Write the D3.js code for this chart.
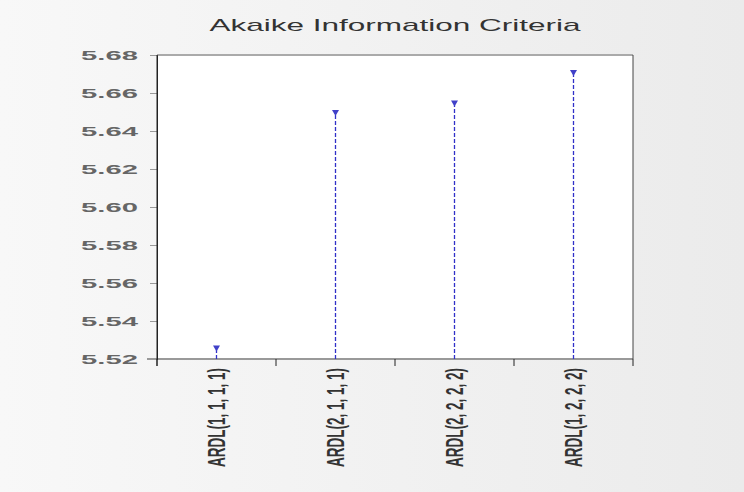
<!DOCTYPE html>
<html><head><meta charset="utf-8">
<script src="https://cdn.jsdelivr.net/npm/d3@7"></script>
<style>html,body{margin:0;padding:0;background:#f1f1f1;}</style>
</head><body>
<svg id="c" width="744" height="492"></svg>
<script>
const categories = ["ARDL(1, 1, 1, 1)", "ARDL(2, 1, 1, 1)", "ARDL(2, 2, 2, 2)", "ARDL(1, 2, 2, 2)"];
const aicValues = [5.526, 5.650, 5.655, 5.671];
const yTicks = [5.52, 5.54, 5.56, 5.58, 5.60, 5.62, 5.64, 5.66, 5.68];
const title = "Akaike Information Criteria";

const svg = d3.select("#c");
const m = {l:157, r:633, t:55, b:359};

const defs = svg.append("defs");
const g = defs.append("linearGradient").attr("id","bg").attr("x1",0).attr("x2",1).attr("y1",0).attr("y2",0);
g.append("stop").attr("offset","0%").attr("stop-color","#f8f8f8");
g.append("stop").attr("offset","100%").attr("stop-color","#ebebeb");
svg.append("rect").attr("width",744).attr("height",492).attr("fill","url(#bg)");

const x = d3.scaleBand().domain(categories).range([m.l, m.r]);
const y = d3.scaleLinear().domain([5.52, 5.68]).range([m.b, m.t]);

// plot area
svg.append("rect").attr("x",m.l).attr("y",m.t).attr("width",m.r-m.l).attr("height",m.b-m.t).attr("fill","#fff");
svg.append("line").attr("x1",m.l).attr("x2",m.r).attr("y1",m.t).attr("y2",m.t).attr("stroke","#aaa").attr("stroke-width",2);
svg.append("line").attr("x1",m.l-10).attr("x2",m.r).attr("y1",m.b).attr("y2",m.b).attr("stroke","#999").attr("stroke-width",2);
svg.append("line").attr("x1",m.r).attr("x2",m.r).attr("y1",m.t).attr("y2",m.b).attr("stroke","#444").attr("stroke-width",1);

// y axis
const ya = svg.append("g").attr("transform",`translate(${m.l},0)`)
  .call(d3.axisLeft(y).tickValues(yTicks).tickFormat(d3.format(".2f")).tickSize(7).tickPadding(12));
ya.select(".domain").attr("stroke","#222");
ya.selectAll(".tick line").attr("stroke","#999");
ya.selectAll(".tick text").each(function(){
  const t = d3.select(this);
  const xx = +t.attr("x");
  t.attr("x",null).attr("transform",`translate(${xx},0) scale(2.25,1)`)
   .attr("font-family","Liberation Sans, Arial, sans-serif").attr("font-size",13).attr("font-weight","bold").attr("fill","#666");
});

// x axis ticks at band boundaries
const xa = svg.append("g").attr("transform",`translate(0,${m.b})`);
const bounds = categories.map(c => x(c)).concat([m.r]);
xa.selectAll("line.t").data(bounds).join("line")
  .attr("x1",d=>d).attr("x2",d=>d).attr("y1",0).attr("y2",7).attr("stroke","#222");

// x labels
svg.append("g").selectAll("text").data(categories).join("text")
  .attr("transform",d=>`translate(${x(d)+x.bandwidth()/2},368) scale(1.8,1) rotate(-90)`)
  .attr("text-anchor","end").attr("dy","0.35em")
  .attr("font-family","Liberation Sans, Arial, sans-serif").attr("font-size",13.5).attr("font-weight","bold").attr("fill","#333")
  .text(d=>d);

// stems
const cx = d => x(d) + x.bandwidth()/2;
svg.append("g").selectAll("line").data(categories).join("line")
  .attr("x1",cx).attr("x2",cx).attr("y1",y(5.52)).attr("y2",(d,i)=>y(aicValues[i]))
  .attr("stroke","#3030c8").attr("stroke-width",1.3).attr("stroke-dasharray","4,2");
// markers
svg.append("g").selectAll("path").data(categories).join("path")
  .attr("d",(d,i)=>{const X=cx(d),Y=y(aicValues[i]);return `M${X-3.5},${Y-2}L${X+3.5},${Y-2}L${X},${Y+4}Z`;})
  .attr("fill","#4040c8");

// left axis line over everything
svg.append("line").attr("x1",m.l).attr("x2",m.l).attr("y1",m.t).attr("y2",m.b+7).attr("stroke","#222");

// title
svg.append("text").attr("transform",`translate(${(m.l+m.r)/2},31) scale(1.97,1)`)
  .attr("text-anchor","middle").attr("font-family","Liberation Sans, Arial, sans-serif")
  .attr("font-size",16).attr("fill","#333").text(title);
</script>
</body></html>
